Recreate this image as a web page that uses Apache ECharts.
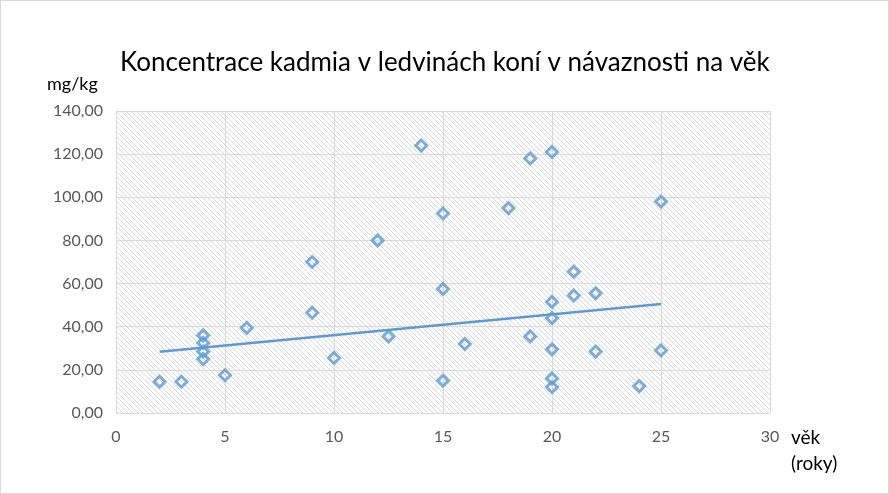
<!DOCTYPE html>
<html>
<head>
<meta charset="utf-8">
<script src="https://cdn.jsdelivr.net/npm/echarts@6/dist/echarts.min.js"></script>
<style>
html,body{margin:0;padding:0;background:#fff;}
#c{width:887px;height:492px;border:1px solid #d9d9d9;}
</style>
</head>
<body>
<div id="c"></div>
<script>
// věk (roky)
var ages = [2, 3, 4, 4, 4, 4, 5, 6, 9, 9, 10, 12, 12.5, 14, 15, 15, 15, 16, 18, 19, 19, 20, 20, 20, 20, 20, 20, 21, 21, 22, 22, 24, 25, 25];
// mg/kg
var cadmium = [14.5, 14.5, 36, 32.5, 28.5, 25, 17.5, 39.5, 70, 46.5, 25.5, 80, 35.5, 124, 92.5, 57.5, 15, 32, 95, 118, 35.5, 121, 51.5, 44, 29.5, 16, 12, 65.5, 54.5, 55.5, 28.5, 12.5, 98, 29];
// lineární trend
var trendX = [2, 25];
var trendY = [28.4, 50.5];
var yTicks = [0, 20, 40, 60, 80, 100, 120, 140];
var xTicks = [0, 5, 10, 15, 20, 25, 30];

var points = ages.map(function (a, i) { return [a, cadmium[i]]; });
var trend = trendX.map(function (a, i) { return [a, trendY[i]]; });

// hatch pattern
var pc = document.createElement('canvas');
pc.width = 5; pc.height = 5;
var ctx = pc.getContext('2d');
ctx.fillStyle = '#ffffff';
ctx.fillRect(0, 0, 5, 5);
for (var i = 0; i < 5; i++) {
  ctx.fillStyle = '#d9d9d9';
  ctx.fillRect(i, i, 1, 1);
}

var FONT = 'Lato, "Liberation Sans", sans-serif';
var chart = echarts.init(document.getElementById('c'));
chart.setOption({
  animation: false,
  title: {
    text: 'Koncentrace kadmia v ledvinách koní v návaznosti na věk',
    left: 114, top: 44,
    textStyle: { fontFamily: FONT, fontSize: 26, fontWeight: 'normal', color: '#000' }
  },
  grid: {
    left: 115, right: 118, top: 110, bottom: 80,
    show: true,
    backgroundColor: { image: pc, repeat: 'repeat' },
    borderWidth: 0
  },
  xAxis: {
    type: 'value', min: 0, max: 30, interval: 5,
    axisLine: { show: false }, axisTick: { show: false },
    axisLabel: { color: '#595959', fontFamily: FONT, fontSize: 16, margin: 16 },
    splitLine: { show: true, lineStyle: { color: '#d9d9d9', width: 1 } }
  },
  yAxis: {
    type: 'value', min: 0, max: 140, interval: 20,
    axisLine: { show: false }, axisTick: { show: false },
    axisLabel: {
      color: '#595959', fontFamily: FONT, fontSize: 16, margin: 13,
      formatter: function (v) { return v.toFixed(2).replace('.', ','); }
    },
    splitLine: { show: true, lineStyle: { color: '#d9d9d9', width: 1 } }
  },
  graphic: [
    { type: 'text', left: 46, top: 74, style: { text: 'mg/kg', fontFamily: FONT, fontSize: 18, fill: '#000' } },
    { type: 'text', left: 790, top: 424, style: { text: 'věk\n(roky)', fontFamily: FONT, fontSize: 19, lineHeight: 26, fill: '#000' } }
  ],
  series: [
    {
      type: 'scatter', data: points, symbol: 'diamond', symbolSize: 11,
      itemStyle: { color: 'rgba(255,255,255,0)', borderColor: '#5B9BD5', borderWidth: 3 },
      z: 3
    },
    {
      type: 'line', data: trend, symbol: 'none',
      lineStyle: { color: '#5B9BD5', width: 2.5 }, z: 2
    }
  ]
});
</script>
</body>
</html>
